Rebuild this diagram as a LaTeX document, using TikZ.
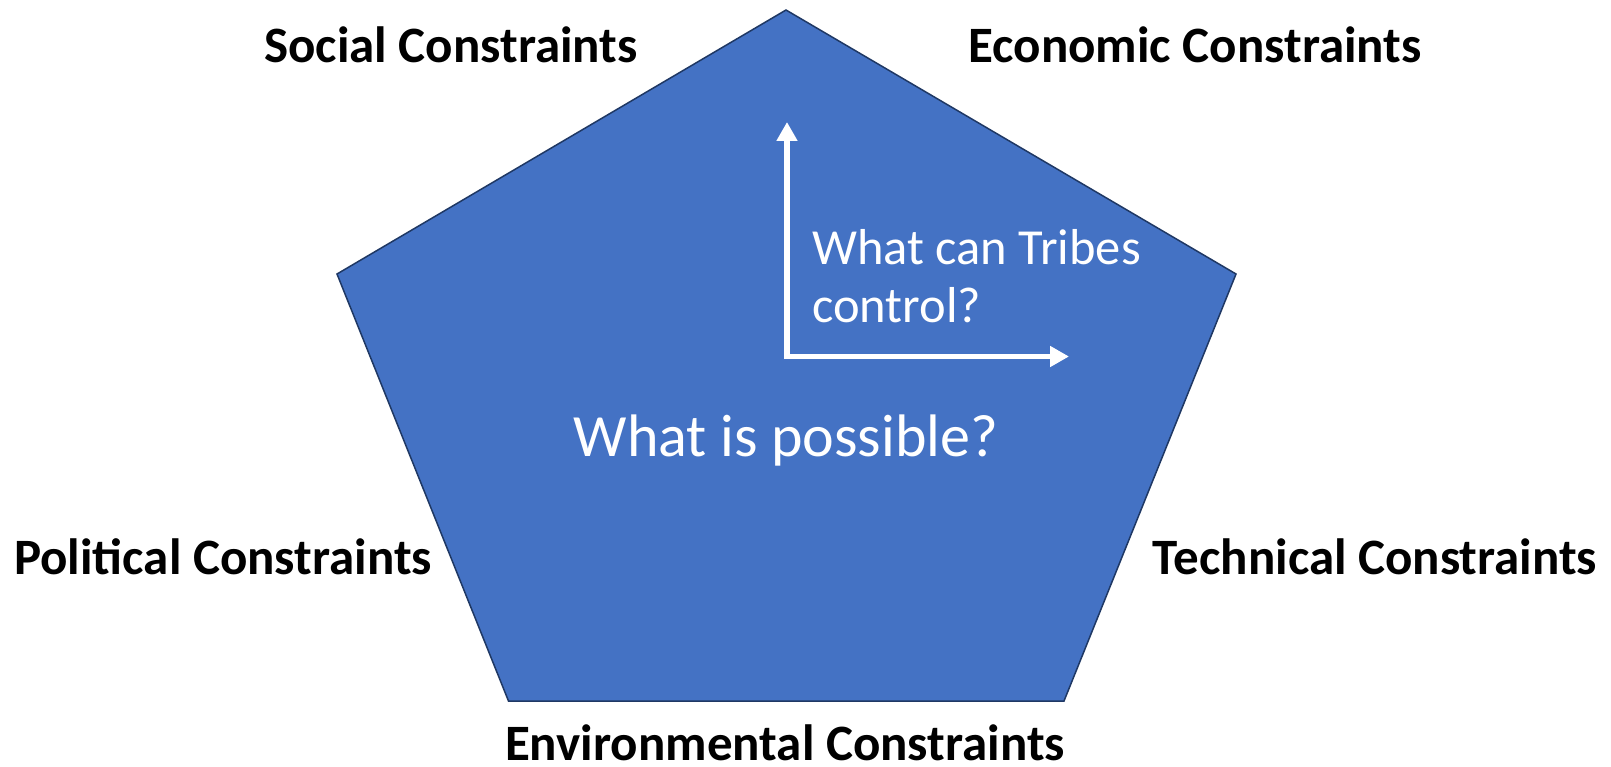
\documentclass[tikz,border=0pt]{standalone}
\usepackage{fontspec}
\setmainfont{Carlito}
\usetikzlibrary{arrows.meta}
\definecolor{pfill}{HTML}{4472C4}
\definecolor{pedge}{HTML}{1F3864}
\begin{document}
\begin{tikzpicture}[x=1pt,y=-1pt,
  lab/.style={font=\fontsize{51}{60}\selectfont\bfseries, anchor=base, inner sep=0pt},
  inner/.style={font=\fontsize{50.5}{60}\selectfont, text=white, inner sep=0pt},
  warrow/.style={white, line width=5.5pt, -{Triangle[length=19pt,width=20pt]}}]
\useasboundingbox (0,0) rectangle (1611,767);
\coordinate (v1) at (786,10);
\coordinate (v2) at (1236,274);
\coordinate (v3) at (1064,701);
\coordinate (v4) at (508.5,701);
\coordinate (v5) at (337,274);
\draw[fill=pfill, draw=pedge, line width=1.5pt, line join=miter] (v1)--(v2)--(v3)--(v4)--(v5)--cycle;
\coordinate (o) at (787,356.5);
\coordinate (up) at (787,122);
\coordinate (rt) at (1069,356.5);
\draw[warrow] ([yshift=2.75pt]o) -- (up);
\draw[warrow] ([xshift=-2.75pt]o) -- (rt);
\node[lab] (soc) at (451,63) {Social Constraints};
\node[lab] (eco) at (1195,63) {Economic Constraints};
\node[lab] (pol) at (223,574) {Political Constraints};
\node[lab] (tec) at (1375,574) {Technical Constraints};
\node[lab] (env) at (785,760) {Environmental Constraints};
\node[font=\fontsize{60}{72}\selectfont, text=white, anchor=base, inner sep=0pt] (pos) at (786,456) {What is possible?};
\node[inner, anchor=base west] (t1) at (812,265) {What can Tribes};
\node[inner, anchor=base west] (t2) at (812,323) {control?};
\end{tikzpicture}
\end{document}
